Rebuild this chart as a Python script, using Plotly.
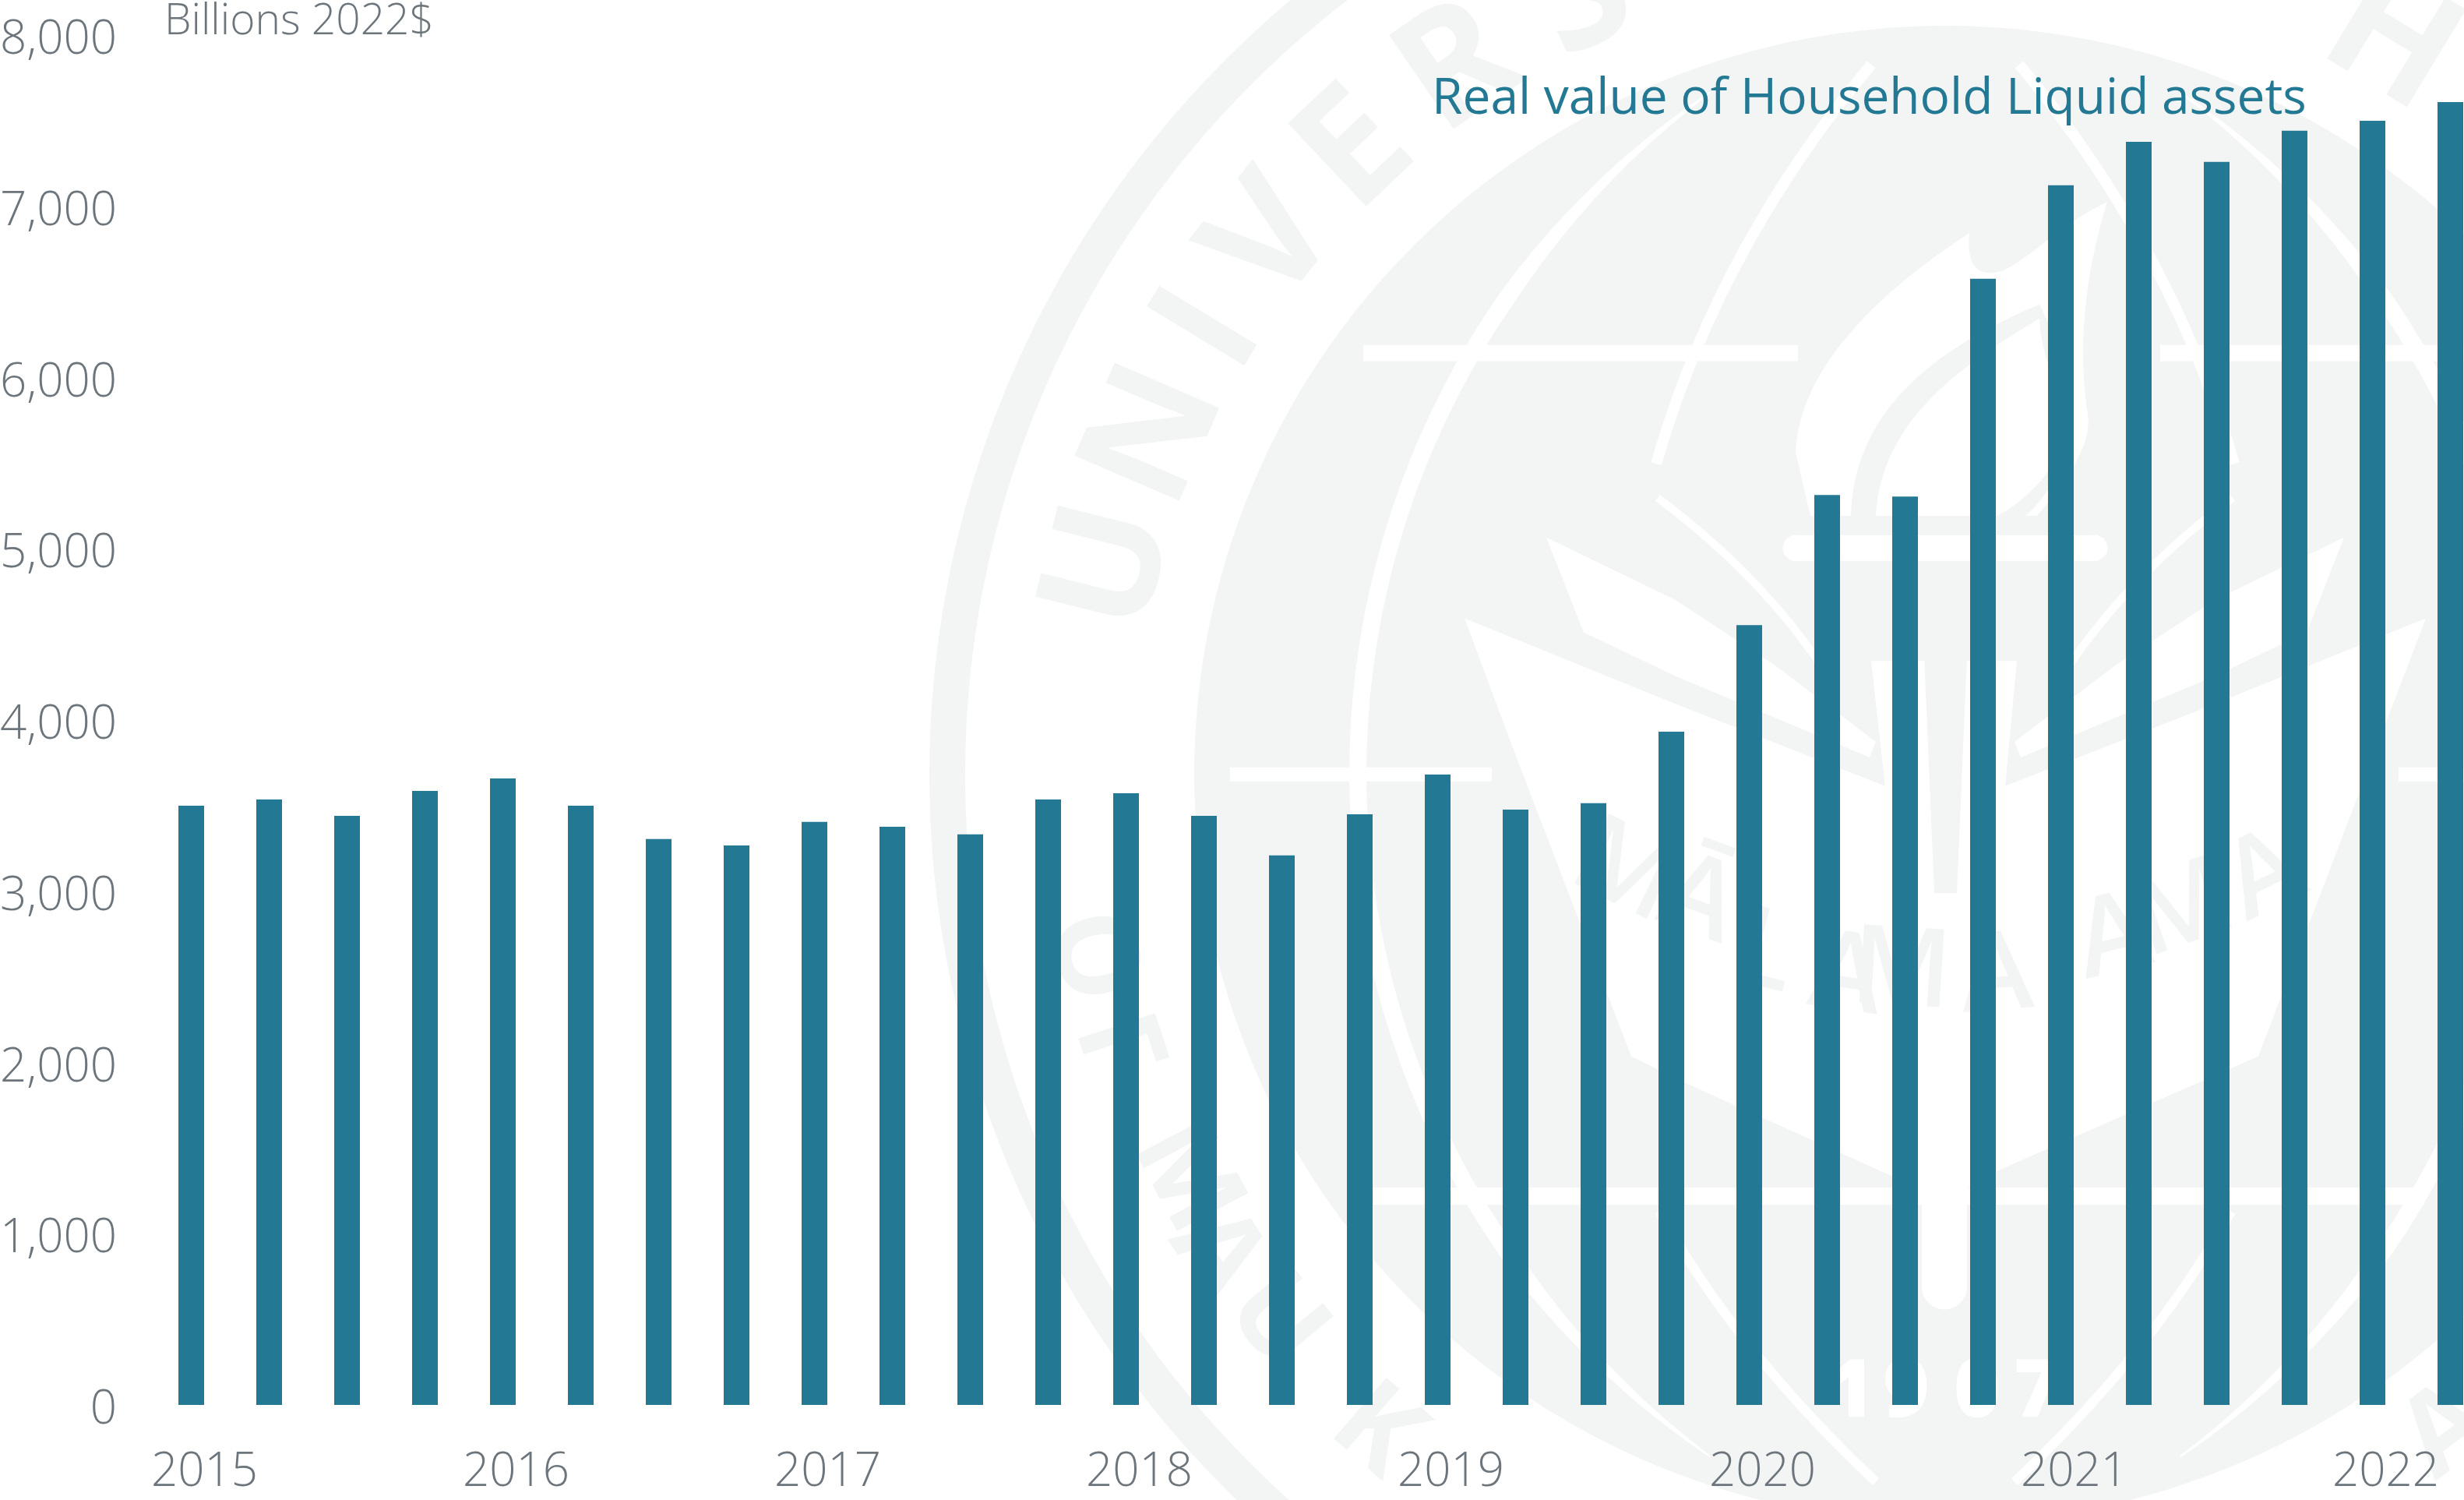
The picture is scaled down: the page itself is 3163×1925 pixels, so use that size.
import math
import plotly.graph_objects as go

# ---- chart data ----
years_x = [2015 + i / 4 for i in range(30)]
liquid_assets = [3500, 3536, 3441, 3586, 3659, 3500, 3305, 3268, 3405, 3377,
                 3332, 3536, 3573, 3441, 3209, 3450, 3682, 3477, 3514, 3932,
                 4554, 5314, 5305, 6577, 7123, 7377, 7259, 7441, 7500, 7609]
y_ticks = [0, 1000, 2000, 3000, 4000, 5000, 6000, 7000, 8000]
x_tick_labels = ["2015", "2016", "2017", "2018", "2019", "2020", "2021", "2022"]
x_tick_vals = [2015, 2016, 2017, 2018, 2019, 2020, 2021, 2022]

W, H = 3163, 1925
L, R, T, B = 160, 0, 45, 90
BASE_Y = 1809
BAR = "#237994"
GREY = "#6c757b"
WM = "#f3f5f5"
FONT = "Open Sans"


def px(X):
    return (X - L) / (W - L - R)


def py(Y):
    return 1 - (Y - T) / (H - T - B)


def P(X, Y):
    return f"{px(X):.5f},{py(Y):.5f}"


def poly(pts):
    return "M" + " L".join(P(*p) for p in pts) + " Z"


shapes = []
base = dict(xref="paper", yref="paper", layer="below")


def circle(cx, cy, r, color):
    shapes.append(dict(type="circle", x0=px(cx - r), x1=px(cx + r), y0=py(cy + r), y1=py(cy - r),
                       fillcolor=color, line=dict(width=0), **base))


def fill(pts, color="white"):
    shapes.append(dict(type="path", path=poly(pts), fillcolor=color, line=dict(width=0), **base))


def path(d, color="white"):
    shapes.append(dict(type="path", path=d, fillcolor=color, line=dict(width=0), **base))


def stroke(p0, c, p1, w, color="white"):
    d = f"M{P(*p0)} Q{P(*c)} {P(*p1)}"
    shapes.append(dict(type="path", path=d, line=dict(color=color, width=w), **base))


def band(x0, x1, y0, y1, color="white"):
    fill([(x0, y0), (x1, y0), (x1, y1), (x0, y1)], color)


def arc(cx, cy, r, t0, t1, w):
    outer, inner = [], []
    n = 60
    for i in range(n + 1):
        f = i / n
        t = math.radians(t0 + (t1 - t0) * f)
        hw = w / 2 * min(1, 5 * min(f, 1 - f) + 0.1)
        outer.append((cx + (r + hw) * math.cos(t), cy + (r + hw) * math.sin(t)))
        inner.append((cx + (r - hw) * math.cos(t), cy + (r - hw) * math.sin(t)))
    fill(outer + inner[::-1])


def letter(txt, X, Y, rot, size, color=WM, weight=700):
    shapes.append(dict(type="rect", x0=px(X - 5), x1=px(X + 5), y0=py(Y + 5), y1=py(Y - 5),
                       fillcolor="rgba(0,0,0,0)", line=dict(width=0),
                       label=dict(text=txt, textangle=rot, textposition="middle center",
                                  font=dict(family=FONT, size=size, color=color, weight=weight)),
                       **base))


CX, CY = 2497, 997


def mir(pts):
    return [(2 * CX - x, y) for x, y in pts]


# ---- decorative seal behind the chart ----
circle(CX, CY, 1304, WM)
circle(CX, CY, 1258, "white")
circle(CX, CY, 964, WM)

# curved white lines
arc(2822, 997, 1079, 125.5, 234.5, 22)
arc(2172, 997, 1079, -54.5, 54.5, 22)
stroke((2402, 83), (2205, 320), (2126, 597), 14)
stroke((2592, 83), (2789, 320), (2868, 597), 14)
stroke((2130, 1560), (2230, 1740), (2408, 1908), 12)
stroke((2864, 1560), (2764, 1740), (2586, 1908), 12)

# horizontal white bands
band(1750, 2308, 444, 465)
band(2773, 3244, 444, 465)
band(1579, 1915, 988, 1006)
band(3079, 3415, 988, 1006)
band(1762, 3112, 1529, 1551)

# leaves / white central area
fill([(1880, 796), (2150, 906), (2420, 1012), (2402, 851), (2589, 851), (2574, 1012),
      (2844, 906), (3114, 796), (2899, 1360), (2563, 1508), (2497, 1545), (2428, 1514),
      (2163, 1394), (2094, 1360), (1941, 960)])
leaf = [(1985, 692), (2150, 772), (2279, 857), (2408, 955), (2400, 975), (2150, 870), (2033, 814)]
fill(leaf)
fill(mir(leaf))
stroke((2128, 641), (2260, 740), (2340, 860), 10)
stroke((2866, 641), (2734, 740), (2654, 860), 10)

# torch
path(f"M{P(2528, 300)} C{P(2420, 370)} {P(2310, 470)} {P(2305, 582)} L{P(2324, 664)} L{P(2615, 664)} "
     f"C{P(2660, 610)} {P(2685, 570)} {P(2680, 533)} C{P(2665, 440)} {P(2680, 340)} {P(2705, 260)} "
     f"C{P(2650, 285)} {P(2610, 330)} {P(2570, 349)} C{P(2530, 360)} {P(2525, 330)} {P(2528, 300)} Z")
path(f"M{P(2618, 392)} C{P(2480, 450)} {P(2380, 530)} {P(2376, 664)} L{P(2408, 664)} "
     f"C{P(2415, 550)} {P(2500, 480)} {P(2618, 410)} C{P(2620, 480)} {P(2670, 530)} {P(2640, 590)} "
     f"C{P(2620, 625)} {P(2590, 650)} {P(2564, 664)} L{P(2600, 664)} C{P(2650, 620)} {P(2690, 530)} "
     f"{P(2618, 392)} Z", WM)
band(2300, 2694, 689, 722)
circle(2305, 705.5, 16.5, "white")
circle(2689, 705.5, 16.5, "white")
path(f"M{P(2370, 744)} L{P(2667, 744)} C{P(2650, 810)} {P(2560, 850)} {P(2499, 850)} "
     f"C{P(2440, 850)} {P(2390, 810)} {P(2370, 744)} Z", WM)
fill([(2470, 845), (2525, 845), (2512, 1150), (2483, 1150)], WM)
band(2467, 2525, 1540, 1660)
circle(2496, 1657, 29, "white")

# lettering on the ring and in the shield
top_letters = [("U", 14), ("N", 23.3), ("I", 31.2), ("V", 38.5), ("E", 46.7), ("R", 55.5),
               ("S", 65), ("H", 121.3)]
for ch, a in top_letters:
    t = math.radians(a)
    letter(ch, CX - 1108 * math.cos(t), CY - 1108 * math.sin(t), a - 90, 205)
low_letters = [("O", 1405, 1231, 78), ("F", 1437, 1348, 71.7), ("M", 1526, 1514, 62),
               ("A", 1565, 1612, 56.6), ("U", 1641, 1698, 50.7), ("K", 1769, 1840, 40.8),
               ("A", 3138, 1840, -37)]
for ch, X, Y, rot in low_letters:
    letter(ch, X, Y, rot, 145)
motto = [("M", 2087, 1120), ("Ā", 2182, 1157), ("L", 2266, 1225), ("A", 2370, 1255), ("M", 2441, 1249),
         ("A", 2563, 1255), ("A", 2712, 1206), ("M", 2802, 1169), ("A", 2906, 1126)]
for ch, X, Y in motto:
    letter(ch, X, Y, -math.degrees((X - CX) / 900), 140, weight=600)
for ch, X in [("1", 2376), ("9", 2447), ("0", 2538), ("7", 2615)]:
    letter(ch, X, 1791, 0, 102, color="white", weight=800)

fig = go.Figure(go.Bar(x=years_x, y=liquid_assets, width=33 / 400,
                       marker=dict(color=BAR, line=dict(width=0)), hoverinfo="skip"))
fig.update_layout(
    width=W, height=H, autosize=False, showlegend=False,
    margin=dict(l=L, r=R, t=T, b=B, pad=0),
    paper_bgcolor="white", plot_bgcolor="rgba(0,0,0,0)",
    font=dict(family=FONT, color=GREY, weight=300),
    xaxis=dict(range=[2015 - 85.5 / 400, 2015 + (W - 245.5) / 400], tickmode="array",
               tickvals=x_tick_vals, ticktext=x_tick_labels, showgrid=False, zeroline=False,
               showline=False, ticks="", ticklabelstandoff=43, ticklabelshift=17,
               tickfont=dict(family=FONT, size=60, color=GREY, weight=300)),
    yaxis=dict(range=[0, 8000], domain=[py(BASE_Y), 1], tickmode="array", tickvals=y_ticks, tickformat=",",
               showgrid=False, zeroline=False, showline=False, ticks="",
               ticklabelstandoff=9, ticklabelshift=3,
               tickfont=dict(family=FONT, size=60, color=GREY, weight=300)),
    shapes=shapes,
    annotations=[
        dict(text="Billions 2022$", xref="paper", yref="paper", x=px(209), y=py(22), xanchor="left",
             yanchor="middle", showarrow=False, font=dict(family=FONT, size=55, color=GREY, weight=300)),
        dict(text="Real value of Household Liquid assets", xref="paper", yref="paper", x=px(2963), y=py(122),
             xanchor="right", yanchor="middle", showarrow=False,
             font=dict(family=FONT, size=64, color=BAR, weight=400)),
    ],
)
fig.write_html("out.html", config=dict(displayModeBar=False),
               post_script="document.body.style.margin='0';document.body.style.overflow='hidden';")
